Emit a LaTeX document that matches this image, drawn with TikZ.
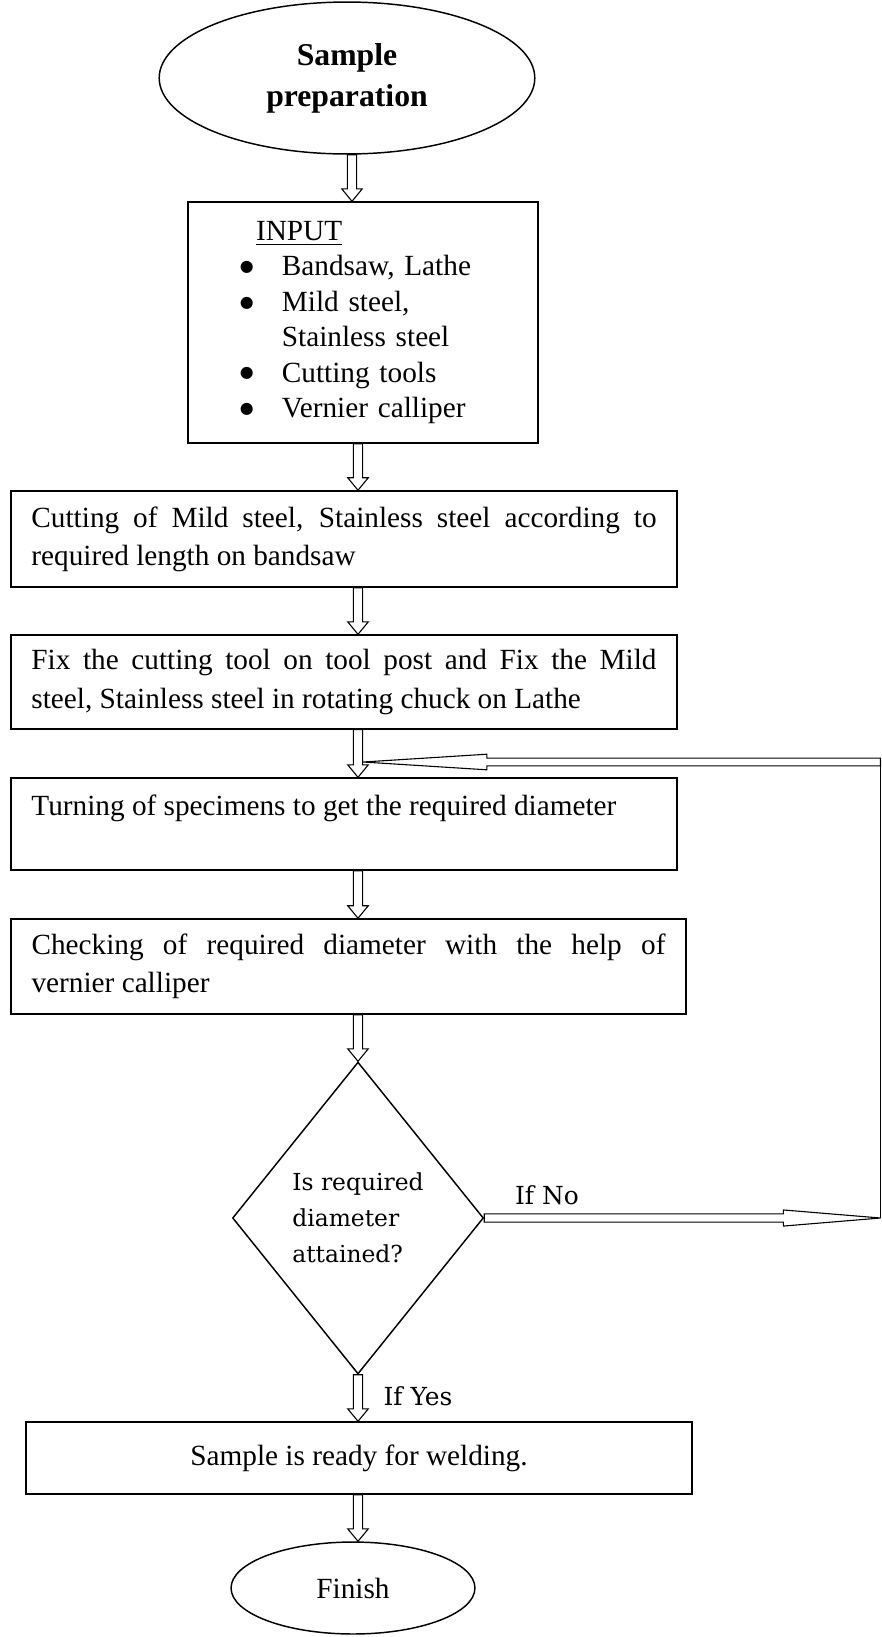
\documentclass[tikz,border=0pt]{standalone}
\usepackage{fontspec}
\setmainfont{Liberation Serif}
\newfontfamily\dfont{DejaVu Serif}
\newfontfamily\symfont{DejaVu Sans}
\usetikzlibrary{shapes.geometric,calc}
\newcommand{\ibul}{\makebox[17.2pt][l]{\raisebox{0.3ex}{\symfont\fontsize{6.5}{6.5}\selectfont ●}}}
\tikzset{
	blk/.style args={#1/#2/#3}{to path={
		($(\tikztostart)!#1!90:(\tikztotarget)$)
		-- ($(\tikztotarget)!#3!(\tikztostart)!#1!90:(\tikztotarget)$)
		-- ($(\tikztotarget)!#3!(\tikztostart)!#2!90:(\tikztotarget)$)
		-- (\tikztotarget)
		-- ($(\tikztotarget)!#3!(\tikztostart)!#2!-90:(\tikztotarget)$)
		-- ($(\tikztotarget)!#3!(\tikztostart)!#1!-90:(\tikztotarget)$)
		-- ($(\tikztostart)!#1!-90:(\tikztotarget)$) -- cycle}},
	vblk/.style={line width=0.45pt,blk=1.9pt/4.2pt/5.1pt},
	noblk/.style={line width=0.45pt,blk=1.7pt/3.3pt/39.8pt},
	backblk/.style={line width=0.45pt,blk=1.6pt/3.2pt/50.8pt},
	box/.style={draw,rectangle,minimum width=273.1pt,text width=256.3pt,inner xsep=8.4pt,align=justify},
	lbl/.style={font=\dfont\fontsize{10.2}{12}\selectfont}
}
\begin{document}
\begin{tikzpicture}[x=0.41pt,y=-0.41pt,line width=0.6pt]
		\fontsize{12}{15.6}\selectfont
		\useasboundingbox (0,0) rectangle (882,1637);
		\coordinate (topx) at (352,0);
		\coordinate (midx) at (358,0);
		\node[draw,ellipse,minimum width=154pt,minimum height=62.3pt,inner sep=0pt,align=center,font=\bfseries\fontsize{13}{16.8}\selectfont] (start) at (347,78) {Sample\\preparation};
		\node[draw,rectangle,minimum width=143.5pt,minimum height=98.8pt,text width=100.9pt,inner xsep=21.3pt,align=left,font=\fontsize{12}{14.5}\selectfont] (input) at (363,322.5) {\hspace*{6.6pt}\underline{INPUT}\\
			\ibul Bandsaw, Lathe\\
			\ibul Mild steel,\\
			\hspace*{17.2pt}Stainless steel\\
			\ibul Cutting tools\\
			\ibul Vernier calliper};
		\node[box,minimum height=39.4pt] (b2) at (344,539) {Cutting of Mild steel, Stainless steel according to\linebreak required length on bandsaw};
		\node[box,minimum height=38.5pt] (b3) at (344,682) {Fix the cutting tool on tool post and Fix the Mild\linebreak steel, Stainless steel in rotating chuck on Lathe};
		\node[box,minimum height=37.7pt] (b4) at (344,824) {Turning of specimens to get the required diameter\\\mbox{}};
		\node[box,minimum width=276.8pt,text width=259.9pt,minimum height=39pt] (b5) at (348.5,966.5) {Checking of required diameter with the help of\linebreak vernier calliper};
		\node[draw,diamond,aspect=0.8,minimum width=102.9pt,minimum height=127.9pt,inner sep=0pt,align=left,font=\dfont\fontsize{9.6}{14.8}\selectfont] (q) at (358,1218) {Is required\\diameter\\attained?};
		\node[draw,rectangle,minimum width=273.1pt,minimum height=29.5pt] (b6) at (359,1458) {Sample is ready for welding.};
		\node[draw,ellipse,minimum width=100pt,minimum height=37.7pt,inner sep=0pt] (fin) at (353,1588) {Finish};
		\node[lbl] (ifno) at (547,1195) {If No};
		\node[lbl] (ifyes) at (418,1396) {If Yes};
		\coordinate (nob) at (880.5,1218);
		\coordinate (backa) at (880.5,762);
		\coordinate (backb) at (363,762);

		\draw[vblk] (start.south -| topx) to (input.north -| topx);
		\foreach \a/\b in {input/b2,b2/b3,b3/b4,b4/b5,b6/fin}{
		\draw[vblk] (\a.south -| midx) to (\b.north -| midx);
		}
		\draw[vblk] (b5.south -| midx) to (q.north);
		\draw[vblk] (q.south) to (b6.north -| midx);
		\draw[noblk] (q.east) to (nob);
		\draw[line width=0.5pt] (nob) -- (backa);
		\draw[backblk] (backa) to (backb);
	\end{tikzpicture}
\end{document}
